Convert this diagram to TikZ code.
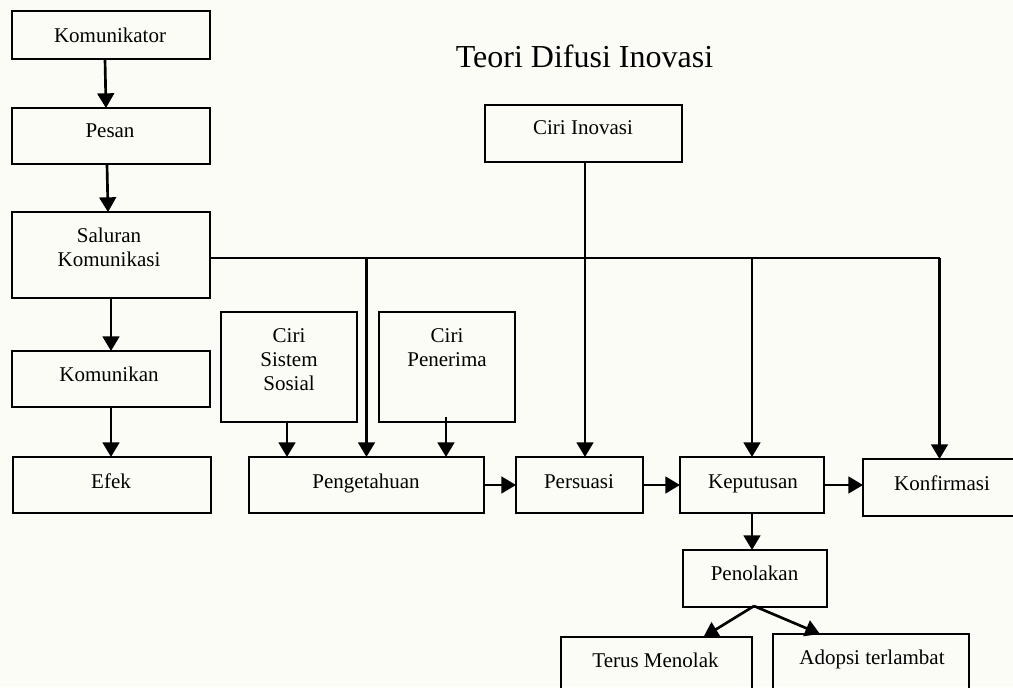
\documentclass[tikz,border=0pt]{standalone}
\usepackage{fontspec}
\setmainfont{Liberation Serif}
\usetikzlibrary{arrows.meta,calc,fit}
\definecolor{paper}{RGB}{252,252,247}
\begin{document}
\begin{tikzpicture}[x=0.75pt,y=-0.75pt,
  blk/.style={draw, line width=1.5pt, inner sep=0pt, outer sep=0pt},
  txt/.style={font=\fontsize{15.75}{18}\selectfont, inner sep=0pt, align=center},
  arr/.style={line width=2pt, -{Triangle[length=11pt,width=12.5pt]}},
  conn/.style={line width=1.5pt}]
  \useasboundingbox (0,0) rectangle (1013,687);
  \clip (0,0) rectangle (1013,687);
  \fill[paper] (0,0) rectangle (1013,687);

  % title
  \node[anchor=base, inner sep=0pt, font=\fontsize{24}{28}\selectfont] (title) at (584.5,67) {Teori Difusi Inovasi};

  % communication chain (left column)
  \node[blk, fit={(12,11) (210,59)}] (kom) {};
  \node[blk, fit={(12,108) (210,164)}] (pes) {};
  \node[blk, fit={(12,212) (210,298)}] (sal) {};
  \node[blk, fit={(12,351) (210,407)}] (kmk) {};
  \node[blk, fit={(13,457) (211,513)}] (efek) {};

  \node[txt, anchor=base] (kom-t) at (110,42) {Komunikator};
  \node[txt, anchor=base] (pes-t) at (110,137) {Pesan};
  \node[txt] (sal-t) at (109,247) {Saluran\\Komunikasi};
  \node[txt, anchor=base] (kmk-t) at (109,381) {Komunikan};
  \node[txt, anchor=base] (efek-t) at (111,488) {Efek};

  % diffusion boxes
  \node[blk, fit={(221,312) (357,422)}] (sos) {};
  \node[blk, fit={(379,312) (515,422)}] (pen) {};
  \node[blk, fit={(485,105) (682,162)}] (inov) {};
  \node[blk, fit={(249,457) (484,513)}] (peng) {};
  \node[blk, fit={(516,457) (643,513)}] (pers) {};
  \node[blk, fit={(680,457) (824,513)}] (kep) {};
  \node[blk, fit={(863,459) (1016,516)}] (konf) {};
  \node[blk, fit={(683,550) (827,607)}] (tol) {};
  \node[blk, fit={(561,637) (752,712)}] (terus) {};
  \node[blk, fit={(773,634) (969,712)}] (adop) {};

  \node[txt] (sos-t) at (289,360) {Ciri\\Sistem\\Sosial};
  \node[txt] (pen-t) at (447,348) {Ciri\\Penerima};
  \node[txt, anchor=base] (inov-t) at (583,134) {Ciri Inovasi};
  \node[txt, anchor=base] (peng-t) at (366,488) {Pengetahuan};
  \node[txt, anchor=base] (pers-t) at (579,488) {Persuasi};
  \node[txt, anchor=base] (kep-t) at (753,488) {Keputusan};
  \node[txt, anchor=base] (konf-t) at (942,490) {Konfirmasi};
  \node[txt, anchor=base] (tol-t) at (754.5,580) {Penolakan};
  \node[txt, anchor=base] (terus-t) at (655.5,667) {Terus Menolak};
  \node[txt, anchor=base] (adop-t) at (872,664) {Adopsi terlambat};

  % left column arrows
  \draw[arr] ($(kom.south)+(-6,0)$) -- ($(pes.north)+(-5,0)$);
  \draw[arr] ($(pes.south)+(-4,0)$) -- ($(sal.north)+(-3,0)$);
  \draw[arr] (sal.south) -- (kmk.north);
  \draw[arr] (kmk.south) -- (kmk.south |- efek.north);

  % channel bus from Saluran Komunikasi
  \coordinate (bus) at (0,258);
  \draw[conn] (sal.east |- bus) -- (konf.north |- bus);
  \draw[arr] (peng.north |- bus) -- (peng.north);
  \draw[arr] (kep.north |- bus) -- (kep.north);
  \draw[arr] (konf.north |- bus) -- (konf.north);

  % characteristics into stages
  \draw[arr] ($(inov.south)+(1.5,0)$) -- ($(inov.south |- pers.north)+(1.5,0)$);
  \draw[arr] ($(sos.south)+(-2,0)$) -- ($(sos.south |- peng.north)+(-2,0)$);
  \draw[arr] ($(pen.south)+(-1,-5)$) -- ($(pen.south |- peng.north)+(-1,0)$);

  % stage sequence
  \draw[arr] (peng.east) -- (pers.west);
  \draw[arr] (pers.east) -- (kep.west);
  \draw[arr] (kep.east) -- (kep.east -| konf.west);
  \draw[arr] (kep.south) -- (kep.south |- tol.north);

  % outcomes of rejection
  \coordinate (split) at ($(tol.south)+(-1,-1)$);
  \draw[arr] (split) -- ($(terus.north)+(47,0)$);
  \draw[arr] (split) -- ($(adop.north)+(-51,0)$);
\end{tikzpicture}
\end{document}
